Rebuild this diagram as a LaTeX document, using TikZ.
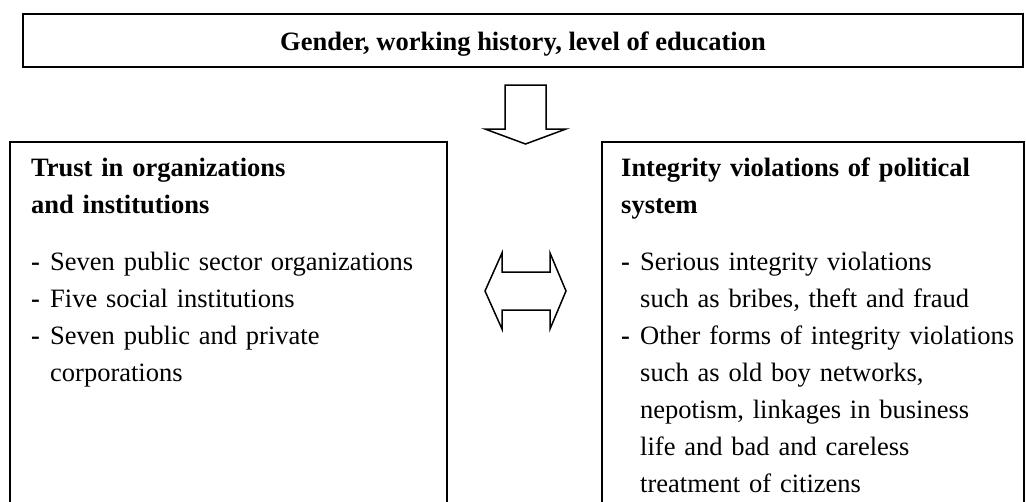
\documentclass[tikz,border=0pt]{standalone}
\usepackage{fontspec}
\setmainfont{Liberation Serif}
\usepackage{tikz}
\usetikzlibrary{positioning}

\newcommand{\listdash}{\makebox[19pt][l]{\textbf{-}}}
\newcommand{\listpad}{\hspace*{19pt}}

\begin{document}
\begin{tikzpicture}[x=1pt,y=-1pt,
  panel/.style={draw,line width=2pt,fill=white},
  paneltext/.style={anchor=north west,inner sep=0pt,align=left,text width=400pt,
    font=\fontsize{26.5}{37}\selectfont},
  blockarrow/.style={draw,line width=1.5pt,fill=white,line join=miter}]
\clip (0,0) rectangle (1026,501);
\fill[white] (0,0) rectangle (1026,501);

% background factors on top
\node[panel,minimum width=1000pt,minimum height=53pt,inner sep=0pt,
  text height=24pt,text depth=5pt,
  font=\fontsize{26.5}{37}\selectfont\bfseries] (factors) at (523,40.5)
  {Gender, working history, level of education};

% the two blocks below
\node[panel,anchor=north west,minimum width=437pt,minimum height=400pt] (trust) at (9,141) {};
\node[panel,anchor=north west,minimum width=422pt,minimum height=400pt] (integrity) at (601,141) {};

\node[paneltext] (trusttext) at (31,150) {\strut\textbf{Trust in organizations}\\
  \textbf{and institutions}\\[20pt]
  \listdash Seven public sector organizations\\
  \listdash Five social institutions\\
  \listdash Seven public and private\\
  \listpad corporations};

\node[paneltext] (integritytext) at (621,150) {\strut\textbf{Integrity violations of political}\\
  \textbf{system}\\[20pt]
  \listdash Serious integrity violations\\
  \listpad such as bribes, theft and fraud\\
  \listdash Other forms of integrity violations\\
  \listpad such as old boy networks,\\
  \listpad nepotism, linkages in business\\
  \listpad life and bad and careless\\
  \listpad treatment of citizens};

% hollow arrows
\coordinate (downtop) at (505,85);
\draw[blockarrow] (downtop) -- ++(41,0) -- ++(0,44) -- ++(20,0) -- ++(-40.5,15)
  -- ++(-40.5,-15) -- ++(20,0) -- cycle;

\coordinate (linkleft) at (485,291);
\draw[blockarrow] (linkleft) -- ++(17,-38) -- ++(0,19) -- ++(48,0) -- ++(0,-19)
  -- ++(16,38) -- ++(-16,38) -- ++(0,-19) -- ++(-48,0) -- ++(0,19) -- cycle;
\end{tikzpicture}
\end{document}
